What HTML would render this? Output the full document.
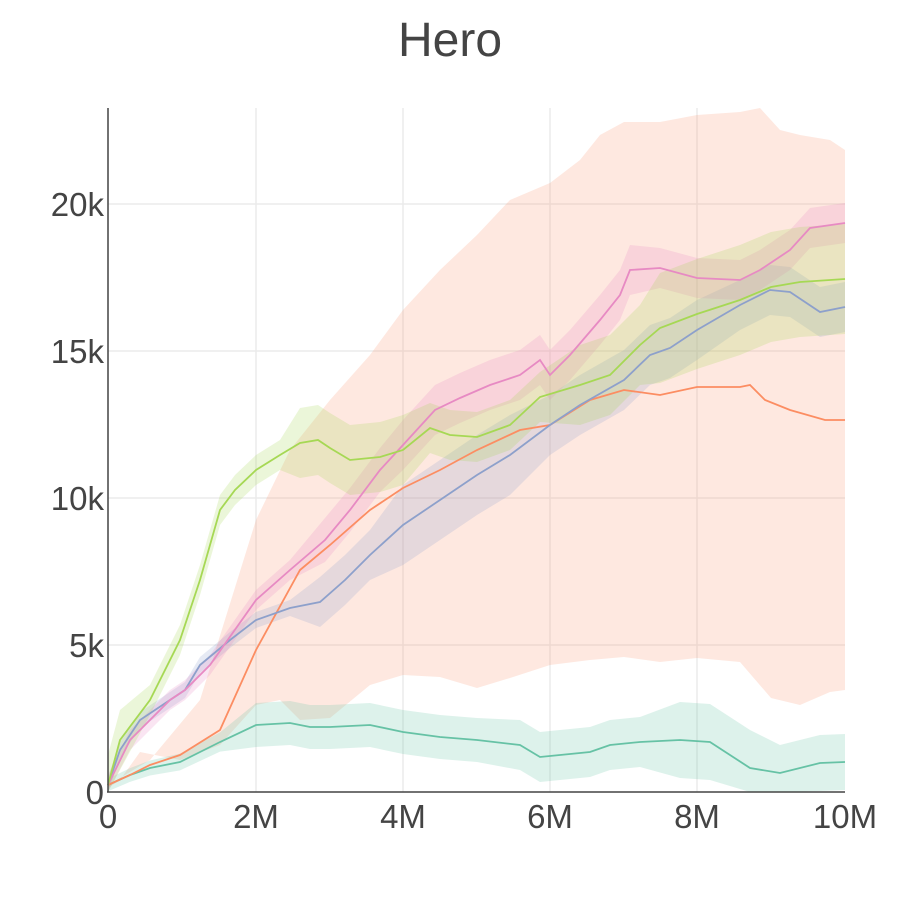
<!DOCTYPE html>
<html><head><meta charset="utf-8"><style>
body{margin:0;background:#fff;}
svg{display:block;font-family:"Liberation Sans",sans-serif;}
</style></head><body>
<svg id="s" width="900" height="900" viewBox="0 0 900 900">
<rect width="900" height="900" fill="#fff"/>
<g stroke="#ebebeb" stroke-width="1.5">
<line x1="256" y1="108" x2="256" y2="792"/><line x1="403" y1="108" x2="403" y2="792"/>
<line x1="550" y1="108" x2="550" y2="792"/><line x1="697" y1="108" x2="697" y2="792"/>
<line x1="108" y1="645" x2="845" y2="645"/><line x1="108" y1="498" x2="845" y2="498"/>
<line x1="108" y1="351" x2="845" y2="351"/><line x1="108" y1="204" x2="845" y2="204"/>
</g>
<g id="bands"></g>
<g id="lines" fill="none" stroke-width="1.8"></g>
<line x1="108" y1="108" x2="108" y2="792" stroke="#444" stroke-width="1.5"/>
<line x1="107" y1="792" x2="845" y2="792" stroke="#444" stroke-width="1.5"/>
<text x="450" y="56" text-anchor="middle" font-size="48" fill="#444">Hero</text>
<g font-size="33" fill="#444" text-anchor="end">
<text x="104" y="804">0</text><text x="104" y="657">5k</text><text x="104" y="510">10k</text>
<text x="104" y="363">15k</text><text x="104" y="216">20k</text>
</g>
<g font-size="33" fill="#444" text-anchor="middle">
<text x="108" y="828">0</text><text x="256" y="828">2M</text><text x="403" y="828">4M</text>
<text x="550" y="828">6M</text><text x="697" y="828">8M</text><text x="845" y="828">10M</text>
</g>
</svg>
<script>
function P(a){return a.map((p,i)=>(i?'L':'M')+p[0]+','+p[1]).join(' ');}
const NS='http://www.w3.org/2000/svg';
function add(g,d,attrs){const e=document.createElementNS(NS,'path');e.setAttribute('d',d);for(const k in attrs)e.setAttribute(k,attrs[k]);document.getElementById(g).appendChild(e);}
const oUp=[[108,785],[150,760],[200,700],[256,520],[290,450],[330,400],[370,355],[403,310],[440,270],[477,235],[510,200],[550,183],[580,160],[600,135],[624,122],[660,122],[697,115],[740,112],[760,108],[780,130],[800,135],[830,140],[845,150]];
const oLo=[[845,690],[830,692],[800,705],[771,698],[740,662],[697,658],[660,662],[624,657],[590,660],[550,665],[510,678],[477,688],[440,677],[403,675],[370,685],[330,718],[300,720],[280,700],[256,705],[220,745],[180,760],[140,752],[120,780],[108,788]];
add('bands',P(oUp)+' '+P(oLo).replace('M','L')+'Z',{fill:'#fc8d62','fill-opacity':0.2});
const L={
green:[[108,785],[130,775],[150,768],[180,762],[220,742],[256,725],[290,723],[310,727],[330,727],[350,726],[370,725],[403,732],[440,737],[477,740],[520,745],[540,757],[560,755],[590,752],[610,745],[640,742],[680,740],[710,742],[750,768],[780,773],[820,763],[845,762]],
blue:[[108,785],[120,750],[140,720],[170,700],[185,690],[200,665],[230,640],[256,620],[290,608],[320,602],[345,580],[370,555],[403,525],[440,500],[477,475],[510,455],[550,425],[580,405],[624,380],[650,355],[670,348],[697,330],[740,305],[770,290],[790,292],[820,312],[845,307]],
pink:[[108,785],[130,740],[170,700],[185,690],[210,665],[256,600],[290,570],[325,540],[350,510],[380,470],[403,445],[435,410],[460,398],[490,385],[520,375],[540,360],[550,375],[570,355],[600,320],[620,295],[630,270],[660,268],[697,278],[740,280],[760,270],[790,250],[810,228],[845,223]],
lime:[[108,785],[120,740],[150,700],[180,640],[200,580],[220,510],[235,490],[256,470],[280,455],[300,443],[318,440],[330,448],[350,460],[380,457],[403,450],[430,428],[450,435],[477,437],[510,425],[540,397],[580,385],[610,375],[640,345],[660,328],[697,314],[740,300],[771,287],[800,282],[845,279]],
orange:[[108,785],[130,775],[150,765],[180,755],[220,730],[256,650],[300,570],[330,545],[370,510],[403,488],[440,470],[477,450],[520,430],[550,425],[590,400],[624,390],[660,395],[697,387],[740,387],[750,385],[765,400],[790,410],[825,420],[845,420]]};
const C={green:'#66c2a5',blue:'#8da0cb',pink:'#e78ac3',lime:'#a6d854',orange:'#fc8d62'};
function W(name,x){
 if(name=='green'){if(x<250)return 6+x*0.03-3;if(x<500)return 22;if(x<650)return 25;if(x<760)return 38;return 28;}
 if(name=='blue'){if(x<300)return 8;if(x<400)return 25;if(x<550)return 40;if(x<700)return 30;return 25;}
 if(name=='pink'){if(x<300)return 10;if(x<400)return 22;if(x<550)return 25;if(x<650)return 25;return 20;}
 if(name=='lime'){if(x<130)return 30;if(x<300)return 15;if(x<420)return 35;if(x<550)return 25;if(x<650)return 40;return 55;}
}
for(const n of ['green','blue','pink','lime']){
 const up=L[n].map(p=>[p[0],Math.max(100,p[1]-W(n,p[0]))]);
 const lo=L[n].map(p=>[p[0],Math.min(792,p[1]+W(n,p[0]))]).reverse();
 add('bands',P(up)+' '+P(lo).replace('M','L')+'Z',{fill:C[n],'fill-opacity':0.22});
}
for(const n of ['green','orange','blue','pink','lime']) add('lines',P(L[n]),{stroke:C[n]});
</script>
</body></html>
